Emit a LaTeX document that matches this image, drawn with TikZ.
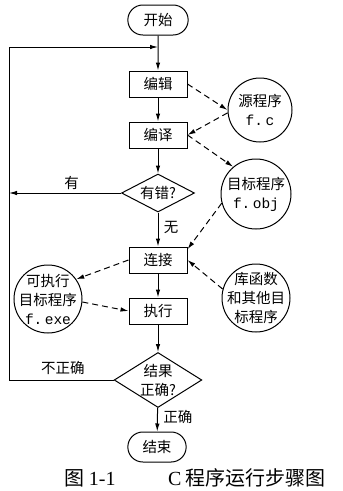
\documentclass[tikz,border=0pt]{standalone}
\usepackage{fontspec}
\setmainfont{Liberation Serif}
\setmonofont{Liberation Mono}
\newfontfamily\cjk{Noto Sans CJK SC}
\usetikzlibrary{shapes.geometric,shapes.misc,arrows.meta}

\begin{document}
\begin{tikzpicture}[x=1pt,y=-1pt]
    \tikzstyle{every node}=[font=\cjk\fontsize{14.5}{19}\selectfont]
    \tikzstyle{term}=[draw,line width=1pt,rounded rectangle,minimum width=67,minimum height=30]
    \tikzstyle{stepbox}=[draw,line width=1pt,minimum width=58,minimum height=26]
    \tikzstyle{test}=[draw,line width=1pt,diamond,inner sep=0pt,align=center]
    \tikzstyle{file}=[draw,line width=1pt,circle,inner sep=0pt,align=center]
    \tikzstyle{flow}=[line width=1pt,-{Latex[length=8pt,width=4.5pt]}]
    \tikzstyle{data}=[flow,dash pattern=on 6pt off 4pt]
    \useasboundingbox (0,0) rectangle (343,491);
    % Steps
    \node[term] (start) at (158,20) {开始};
    \node[stepbox] (edit) at (158,84) {编辑};
    \node[stepbox] (comp) at (158,135) {编译};
    \node[test,minimum width=73,minimum height=38,aspect=1.9] (err) at (158,193) {有错?};
    \node[stepbox] (link) at (158,260) {连接};
    \node[stepbox] (run) at (158,311) {执行};
    \node[test,minimum width=87,minimum height=55,aspect=1.6] (ok) at (158,380) {结果\\正确?};
    \node[term,minimum width=65] (stop) at (157,447) {结束};
    % Files
    \node[file,minimum size=64] (src) at (260,110) {源程序\\{\ttfamily f.\,c}};
    \node[file,minimum size=70,inner sep=-3pt] (obj) at (256,194) {目标程序\\{\ttfamily f.\,obj}};
    \node[file,minimum size=68,inner sep=-8pt] (exe) at (48,299) {可执行\\目标程序\\{\ttfamily f.\,exe}};
    \node[file,minimum size=68,inner sep=-8pt] (lib) at (256,298) {库函数\\和其他目\\标程序};
    % Loop points
    \coordinate (join) at (158,47);
    \coordinate (back) at (9,193);
    % Control flow
    \draw[flow] (start) -- (edit);
    \draw[flow] (edit) -- (comp);
    \draw[flow] (comp) -- (err);
    \draw[flow] (err) -- (link) node[pos=0.45,right=2pt] (no) {无};
    \draw[flow] (link) -- (run);
    \draw[flow] (run) -- (ok);
    \draw[flow] (ok) -- (stop) node[pos=0.4,right=2pt] (yes) {正确};
    \draw[flow] (err.west) -- (back) node[pos=0.44,above] (has) {有};
    \draw[flow] (ok.west) -- (9,380) -- (9,47) -- (join);
    \node (wrong) at (63,368) {不正确};
    % Files in and out
    \draw[data] (edit.east) -- (src.west);
    \draw[data] (src.185) -- (comp.east);
    \draw[data] (comp.east) -- (obj.130);
    \draw[data] (obj.195) -- (link.20);
    \draw[data] (lib.165) -- (link.east);
    \draw[data] (link.west) -- (exe.35);
    \draw[data] (exe.-5) -- (run.west);
    % Caption
    \node[font=\cjk\fontsize{20}{23}\selectfont] (fig) at (90,478) {图 {\rmfamily 1-1}};
    \node[font=\cjk\fontsize{20}{23}\selectfont] (title) at (247,478) {{\rmfamily C} 程序运行步骤图};
\end{tikzpicture}
\end{document}
